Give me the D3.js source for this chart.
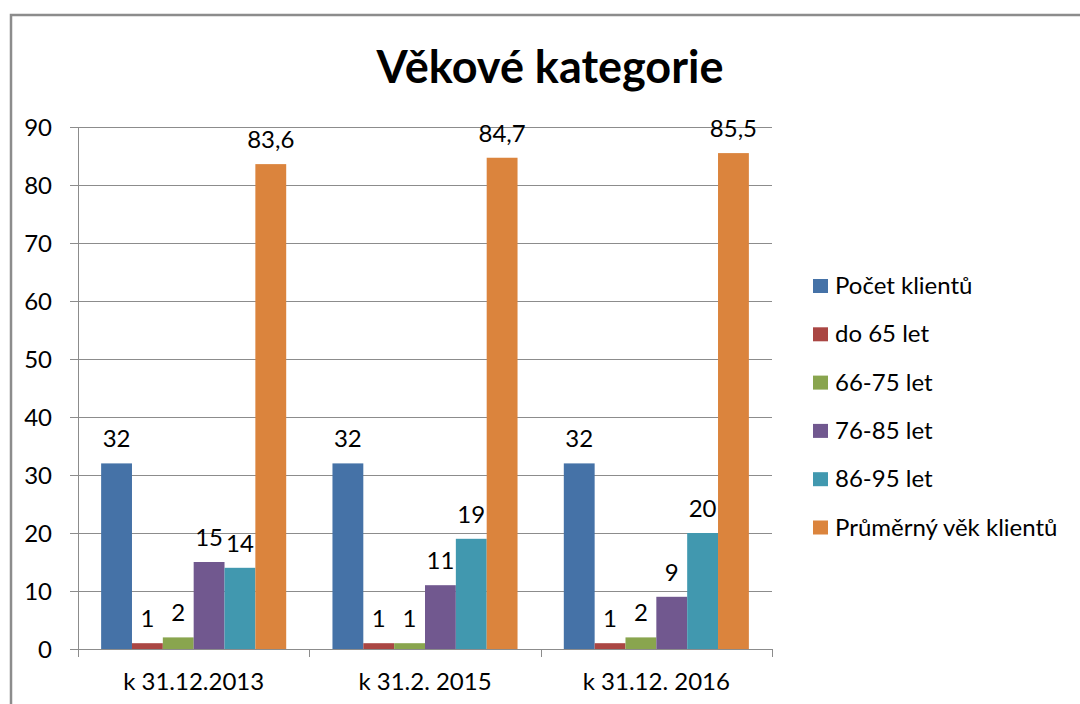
<!DOCTYPE html>
<html><head><meta charset="utf-8">
<script src="https://cdn.jsdelivr.net/npm/d3@7/dist/d3.min.js"></script>
<style>body{margin:0;background:#fff}svg{display:block}</style>
</head><body><svg id="c" width="1080" height="704"></svg>
<script>
const categories = ["k 31.12.2013", "k 31.2. 2015", "k 31.12. 2016"];
const seriesNames = ["Počet klientů", "do 65 let", "66-75 let", "76-85 let", "86-95 let", "Průměrný věk klientů"];
const pocet = [32, 32, 32];
const do65 = [1, 1, 1];
const s6675 = [2, 1, 2];
const s7685 = [15, 11, 9];
const s8695 = [14, 19, 20];
const prumer = [83.6, 84.7, 85.5];
const yTicks = [0, 10, 20, 30, 40, 50, 60, 70, 80, 90];
const colors = ["#4572A7", "#AA4643", "#89A54E", "#71588F", "#4198AF", "#DB843D"];

const seriesValues = [pocet, do65, s6675, s7685, s8695, prumer];
const font = "Lato, 'Open Sans', sans-serif";
const fs = 24;
const svg = d3.select("#c");

// outer frame
svg.append("path").attr("d", "M11,706 V15 H1082").attr("fill", "none").attr("stroke", "#8c8c8c").attr("stroke-width", 2.5);

const pLeft = 78, pRight = 772, pTop = 127, pBottom = 649;
const y = d3.scaleLinear().domain([0, 90]).range([pBottom, pTop]);
const x0 = d3.scaleBand().domain(categories).range([pLeft, pRight]).paddingInner(0.2).paddingOuter(0.1);
const x1 = d3.scaleBand().domain(d3.range(seriesNames.length)).range([0, x0.bandwidth()]);

// gridlines
svg.append("g").selectAll("line").data(yTicks).join("line")
  .attr("x1", pLeft - 8).attr("x2", pRight).attr("y1", d => Math.round(y(d)) + 0.5).attr("y2", d => Math.round(y(d)) + 0.5)
  .attr("stroke", "#8c8c8c").attr("stroke-width", 1);

// y axis
svg.append("line").attr("x1", pLeft + 0.5).attr("x2", pLeft + 0.5).attr("y1", pTop).attr("y2", pBottom + 8).attr("stroke", "#8c8c8c");
svg.append("g").selectAll("text").data(yTicks).join("text")
  .attr("x", 52).attr("y", d => y(d) + 8.5).attr("text-anchor", "end")
  .attr("font-family", font).attr("font-size", fs).attr("fill", "#000").text(d => d);

// x axis tick marks at category boundaries
const step = (pRight - pLeft) / categories.length;
svg.append("g").selectAll("line").data(d3.range(categories.length + 1)).join("line")
  .attr("x1", i => Math.round(pLeft + i * step) + 0.5).attr("x2", i => Math.round(pLeft + i * step) + 0.5)
  .attr("y1", pBottom).attr("y2", pBottom + 8).attr("stroke", "#8c8c8c");
svg.append("g").selectAll("text").data(categories).join("text")
  .attr("x", d => x0(d) + x0.bandwidth() / 2).attr("y", 690).attr("text-anchor", "middle")
  .attr("font-family", font).attr("font-size", fs).attr("fill", "#000").text(d => d);

// bars
const data = [];
categories.forEach((c, ci) => seriesValues.forEach((vals, si) => data.push({c, si, v: vals[ci]})));
const g = svg.append("g");
g.selectAll("rect").data(data).join("rect")
  .attr("x", d => x0(d.c) + x1(d.si)).attr("width", x1.bandwidth())
  .attr("y", d => y(d.v)).attr("height", d => y(0) - y(d.v))
  .attr("fill", d => colors[d.si]);
g.selectAll("text").data(data).join("text")
  .attr("x", d => x0(d.c) + x1(d.si) + x1.bandwidth() / 2).attr("y", d => y(d.v) - 16)
  .attr("text-anchor", "middle").attr("font-family", font).attr("font-size", fs).attr("fill", "#000")
  .text(d => String(d.v).replace(".", ","));

// title
svg.append("text").attr("x", 550).attr("y", 83).attr("text-anchor", "middle")
  .attr("font-family", font).attr("font-weight", "bold").attr("font-size", 45).attr("fill", "#000")
  .text("Věkové kategorie");

// legend
const lg = svg.append("g").selectAll("g").data(seriesNames).join("g")
  .attr("transform", (d, i) => `translate(813, ${286 + i * 48.3})`);
lg.append("rect").attr("x", 0).attr("y", -7).attr("width", 15).attr("height", 14).attr("fill", (d, i) => colors[i]);
lg.append("text").attr("x", 22).attr("y", 8)
  .attr("font-family", font).attr("font-size", fs).attr("fill", "#000").text(d => d);
</script></body></html>
